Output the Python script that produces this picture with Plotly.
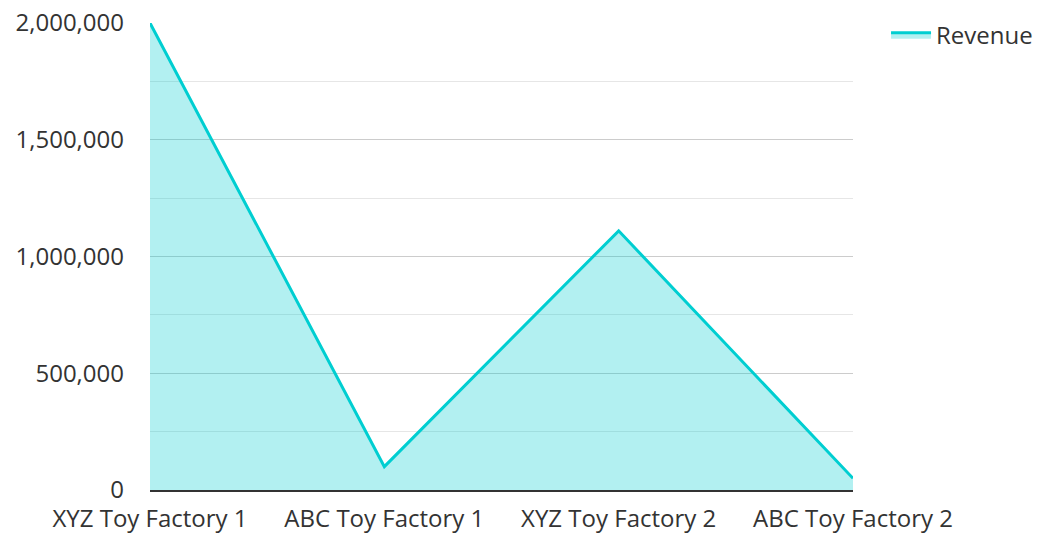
import plotly.graph_objects as go

categories = ["XYZ Toy Factory 1", "ABC Toy Factory 1", "XYZ Toy Factory 2", "ABC Toy Factory 2"]
revenue = [2000000, 100000, 1110000, 50000]

fig = go.Figure()
fig.add_trace(go.Scatter(
    x=categories, y=revenue, name="Revenue", mode="lines",
    line=dict(color="#00CED1", width=3),
    fill="tozeroy", fillcolor="rgba(0,206,209,0.3)",
    showlegend=True,
))

fig.update_layout(
    width=1039, height=533,
    margin=dict(l=150, r=186, t=23, b=43, autoexpand=False),
    paper_bgcolor="white", plot_bgcolor="white",
    font=dict(family="Open Sans", size=24, color="#333333"),
    showlegend=True,
    legend=dict(x=1.047, y=1.022, xanchor="left", yanchor="top",
                font=dict(size=24, color="#333333"), itemwidth=40),
    xaxis=dict(type="category", range=[0, 3], showgrid=False, automargin=False,
               showline=True, linecolor="#333333", linewidth=2,
               ticks="", ticklabelstandoff=6, tickfont=dict(size=24, color="#333333")),
    yaxis=dict(range=[0, 2000000], dtick=500000, tickformat=",", automargin=False,
               showgrid=True, gridcolor="#cccccc", gridwidth=1,
               zeroline=False, ticks="", ticklabelstandoff=25,
               minor=dict(dtick=250000, showgrid=True, gridcolor="#e6e6e6", gridwidth=1),
               tickfont=dict(size=24, color="#333333")),
)

fig.write_html("out.html", config={"displayModeBar": False},
               post_script="document.body.style.margin='0';")
